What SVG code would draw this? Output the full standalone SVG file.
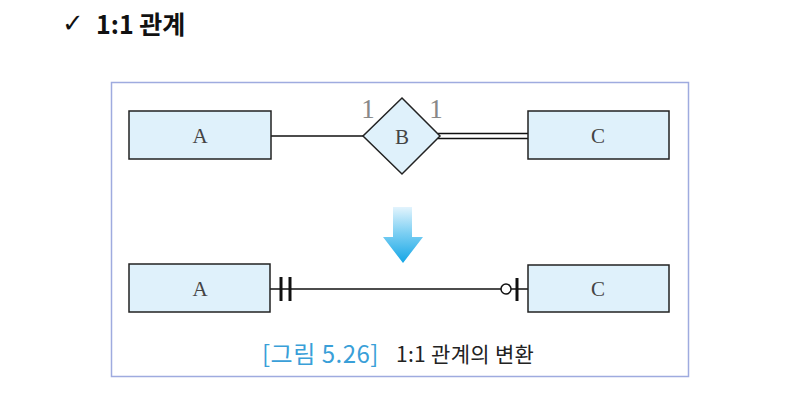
<svg xmlns="http://www.w3.org/2000/svg" width="788" height="416" viewBox="0 0 788 416">
<defs>
<style>
.ent{fill:#dff1fb;stroke:#222;stroke-width:1.5}
.lbl{font-family:"Liberation Serif","DejaVu Serif",serif;font-size:21px;fill:#444;text-anchor:middle;dominant-baseline:central}
.card{font-family:"Liberation Serif",serif;font-size:27px;fill:#888;text-anchor:middle}
.ln{stroke:#111;stroke-width:1.5;fill:none}
.tk{stroke:#111;stroke-width:3;fill:none}
.ko{font-family:"Noto Sans CJK KR","Liberation Sans",sans-serif}
</style>
<linearGradient id="ag" x1="0" y1="0" x2="0" y2="1">
<stop offset="0" stop-color="#e3f4fd"/>
<stop offset="0.45" stop-color="#7fd0f3"/>
<stop offset="1" stop-color="#14a6e6"/>
</linearGradient>
</defs>
<rect width="788" height="416" fill="#fff"/>
<text x="62" y="32" font-family="DejaVu Sans,sans-serif" font-size="26" fill="#111">✓</text>
<text x="96" y="34" class="ko" font-size="25" font-weight="bold" fill="#111">1:1 관계</text>
<rect x="111.5" y="82.5" width="577" height="294" fill="#fff" stroke="#9fabdf" stroke-width="1.5"/>
<g id="connectors">
<line class="ln" x1="271" y1="136" x2="363" y2="136"/>
<line class="ln" x1="438" y1="133.5" x2="528" y2="133.5"/>
<line class="ln" x1="438" y1="138.5" x2="528" y2="138.5"/>
<line class="ln" x1="270" y1="289" x2="501" y2="289"/>
<line class="ln" x1="511" y1="289" x2="528" y2="289"/>
<line class="tk" x1="281" y1="277" x2="281" y2="301"/>
<line class="tk" x1="290" y1="277" x2="290" y2="301"/>
<circle cx="506" cy="289" r="5" fill="#fff" stroke="#111" stroke-width="1.5"/>
<line class="tk" x1="517" y1="278" x2="517" y2="301"/>
</g>
<g id="A1"><rect class="ent" x="129" y="111" width="142" height="48"/><text class="lbl" x="200" y="136">A</text></g>
<g id="B"><polygon class="ent" points="402,98 440,136 402,174 363,136"/><text class="lbl" x="402" y="137">B</text></g>
<g id="C1"><rect class="ent" x="528" y="111" width="141" height="48"/><text class="lbl" x="598" y="136">C</text></g>
<text class="card" x="368" y="118">1</text>
<text class="card" x="436" y="118">1</text>
<g id="arrow"><polygon points="393,207 412,207 412,237 423,237 403,263 383,237 393,237" fill="url(#ag)"/></g>
<g id="A2"><rect class="ent" x="129" y="264" width="141" height="48"/><text class="lbl" x="200" y="289">A</text></g>
<g id="C2"><rect class="ent" x="528" y="265" width="141" height="47"/><text class="lbl" x="598" y="289">C</text></g>
<text x="262" y="363" class="ko" font-size="24" letter-spacing="0.5" fill="#3a9fd8">[그림 5.26]</text>
<text x="396" y="362" class="ko" font-size="21" letter-spacing="0.3" fill="#222">1:1 관계의 변환</text>
</svg>
